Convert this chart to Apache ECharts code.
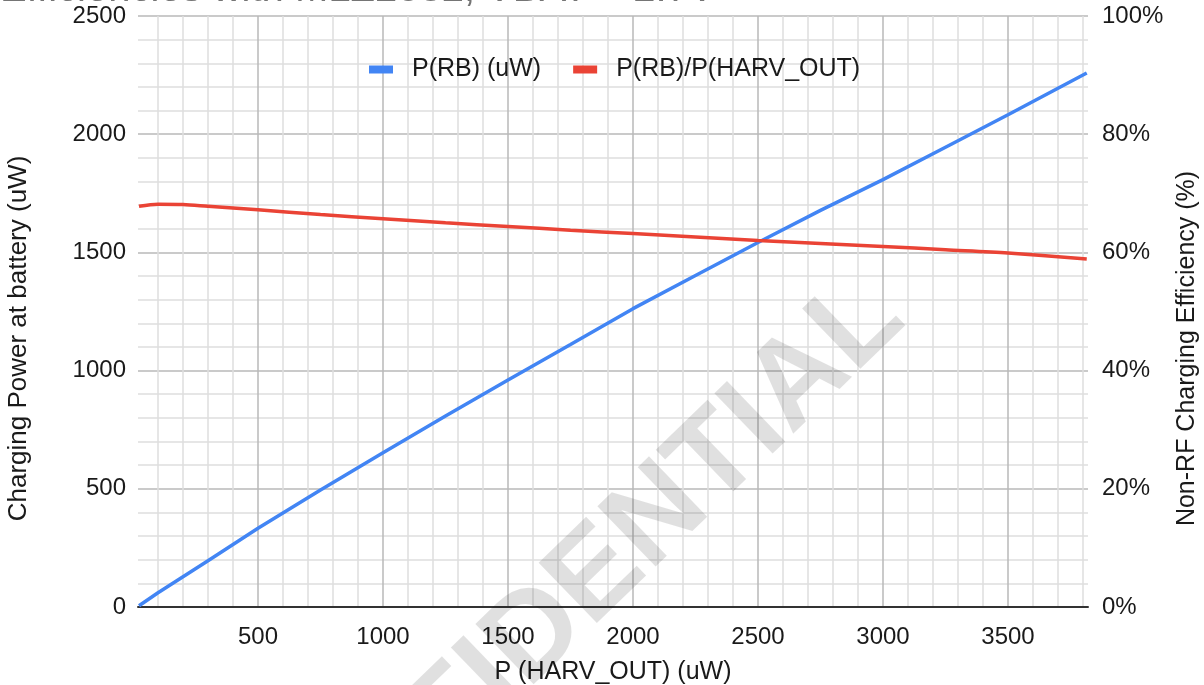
<!DOCTYPE html>
<html><head><meta charset="utf-8">
<script src="https://cdn.jsdelivr.net/npm/echarts@6/dist/echarts.min.js"></script>
<style>html,body{margin:0;padding:0;background:#fff}#c{width:1204px;height:685px}</style>
</head><body><div id="c"></div>
<script>
const harvOut = [24, 100, 200, 300, 500, 750, 1000, 1250, 1500, 1750, 2000, 2250, 2500, 2750, 3000, 3250, 3500, 3815];
const pRB = [5, 60, 128, 196, 333, 495, 652, 808, 960, 1110, 1262, 1402, 1542, 1678, 1808, 1945, 2082, 2259];
const ratioPct = [67.8, 68.15, 68.1, 67.8, 67.2, 66.4, 65.7, 65.0, 64.4, 63.75, 63.2, 62.6, 62.0, 61.5, 61.0, 60.45, 59.9, 58.9];
const leftTicks = [0, 500, 1000, 1500, 2000, 2500];
const rightTicks = [0, 20, 40, 60, 80, 100];
const xTicks = [500, 1000, 1500, 2000, 2500, 3000, 3500];
const xGridValues = [100, 200, 300, 400, 500, 600, 700, 800, 900, 1000, 1100, 1200, 1300, 1400, 1500, 1600, 1700, 1800, 1900, 2000, 2100, 2200, 2300, 2400, 2500, 2600, 2700, 2800, 2900, 3000, 3100, 3200, 3300, 3400, 3500, 3600, 3700, 3800];
const seriesNames = ['P(RB) (uW)', 'P(RB)/P(HARV_OUT)'];
const titleText = 'Efficiencies with MLZ2032, VBAT = 2.7V';
const watermark = 'CONFIDENTIAL';

const FONT = "'Liberation Sans', Arial, sans-serif";
const TXT = '#1a1a1a';
const chart = echarts.init(document.getElementById('c'), null, {renderer: 'canvas'});
const MAJ = '#b8b8b8', MIN = '#dedede';
chart.setOption({
  animation: false,
  textStyle: {fontFamily: FONT},
  grid: {left: 138, right: 116, top: 16, bottom: 78, outerBoundsMode: 'none', containLabel: false},
  legend: {
    top: 52, left: 364, icon: 'rect', itemWidth: 24, itemHeight: 8, itemGap: 32,
    textStyle: {fontSize: 25, color: TXT, fontFamily: FONT, padding: [0, 0, 0, 14]},
    data: seriesNames
  },
  xAxis: {
    type: 'value', min: 20, max: 3820,
    name: 'P (HARV_OUT) (uW)', nameLocation: 'middle', nameGap: 53,
    nameTextStyle: {fontSize: 25, color: TXT},
    axisLine: {show: true, lineStyle: {color: '#333', width: 2}},
    axisTick: {show: false, customValues: xGridValues},
    axisLabel: {fontSize: 24, color: TXT, margin: 18, customValues: xTicks,
      formatter: v => String(v)},
    splitLine: {show: true, lineStyle: {color: [MIN, MIN, MIN, MIN, MAJ], width: 1.5}}
  },
  yAxis: [{
    type: 'value', min: 0, max: 2500, interval: 100, position: 'left',
    name: 'Charging Power at battery (uW)', nameLocation: 'middle', nameGap: 106,
    nameTextStyle: {fontSize: 26, color: TXT, padding: [0, 54, 0, 0]},
    axisLine: {show: false}, axisTick: {show: false},
    axisLabel: {fontSize: 24, color: TXT, margin: 12,
      formatter: v => (leftTicks.indexOf(v) >= 0 ? String(v) : '')},
    splitLine: {show: true, lineStyle: {color: [MAJ, MIN, MIN, MIN, MIN], width: 1.5}}
  }, {
    type: 'value', min: 0, max: 100, interval: 20, position: 'right',
    name: 'Non-RF Charging Efficiency (%)', nameLocation: 'middle', nameGap: 86,
    nameRotate: 90,
    nameTextStyle: {fontSize: 25, color: TXT, padding: [0, 74, 0, 0]},
    axisLine: {show: false}, axisTick: {show: false},
    axisLabel: {fontSize: 24, color: TXT, margin: 14,
      formatter: v => (rightTicks.indexOf(v) >= 0 ? v + '%' : '')},
    splitLine: {show: false}
  }],
  series: [{
    name: seriesNames[0], type: 'line', yAxisIndex: 0, showSymbol: false, smooth: false,
    color: '#4285F4', lineStyle: {width: 3.5, color: '#4285F4'},
    data: harvOut.map((x, i) => [x, pRB[i]])
  }, {
    name: seriesNames[1], type: 'line', yAxisIndex: 1, showSymbol: false, smooth: 0.3,
    color: '#EA4335', lineStyle: {width: 3.5, color: '#EA4335'},
    data: harvOut.map((x, i) => [x, ratioPct[i]])
  }],
  graphic: [{
    type: 'text', left: 0, top: -30, z: 10,
    style: {text: titleText, fontSize: 40, fill: '#757575', fontFamily: FONT}
  }, {
    type: 'text', x: 558, y: 614, rotation: 44 * Math.PI / 180, z: 100, silent: true,
    style: {text: watermark, fontSize: 122, fontWeight: 'bold', fill: 'rgba(0,0,0,0.12)',
      align: 'center', verticalAlign: 'middle', fontFamily: FONT}
  }]
});
</script></body></html>
